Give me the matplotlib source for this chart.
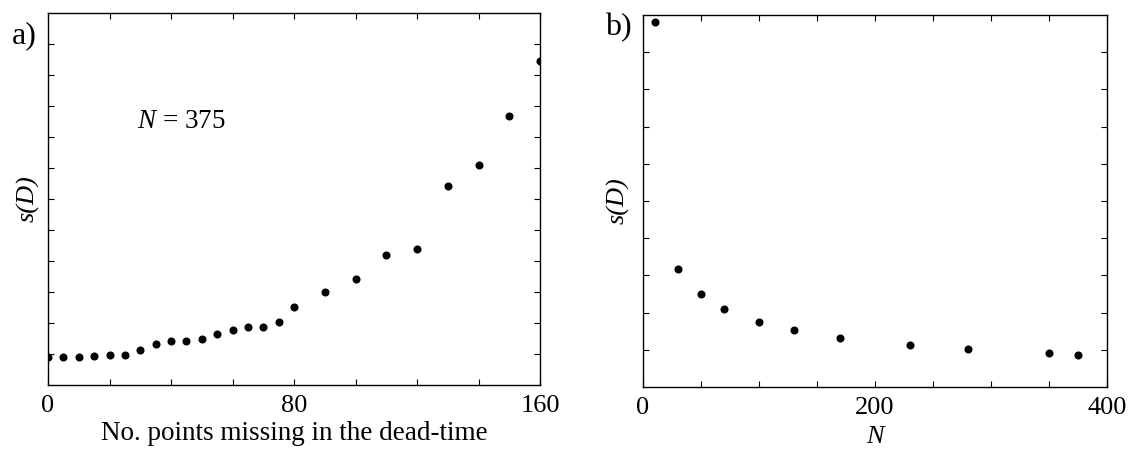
import matplotlib
matplotlib.use("Agg")
import matplotlib.pyplot as plt
from matplotlib.ticker import FixedLocator, NullFormatter

plt.rcParams["font.family"] = ["Liberation Serif", "DejaVu Serif"]
plt.rcParams["mathtext.fontset"] = "custom"
plt.rcParams["mathtext.rm"] = "Liberation Serif"
plt.rcParams["mathtext.it"] = "Liberation Serif:italic"

# (a) s(D) against the number of points missing in the dead-time, N = 375
missing = [0, 5, 10, 15, 20, 25, 30, 35, 40, 45, 50, 55, 60, 65, 70, 75, 80,
           90, 100, 110, 120, 130, 140, 150, 160]
s_missing = [0.91, 0.91, 0.91, 0.93, 0.96, 0.96, 1.12, 1.33, 1.41, 1.41, 1.50,
             1.65, 1.77, 1.86, 1.88, 2.03, 2.53, 3.01, 3.42, 4.18, 4.40, 6.43,
             7.11, 8.68, 10.46]

# (b) s(D) against the series length N
n_points = [10, 30, 50, 70, 100, 130, 170, 230, 280, 350, 375]
s_n = [9.82, 3.17, 2.50, 2.11, 1.76, 1.53, 1.33, 1.14, 1.02, 0.91, 0.87]

a_xticks = [0, 80, 160]
a_xminor = [20, 40, 60, 100, 120, 140]
a_yticks = [1, 2, 3, 4, 5, 6, 7, 8, 9, 10, 11]
b_xticks = [0, 200, 400]
b_xminor = [50, 100, 150, 250, 300, 350]
b_yticks = [1, 2, 3, 4, 5, 6, 7, 8, 9]

W, H = 1129, 451
fig = plt.figure(figsize=(W / 100, H / 100), dpi=100)
ax1 = fig.add_axes([48 / W, 1 - 385 / H, 492 / W, 372 / H])
ax2 = fig.add_axes([643 / W, 1 - 387 / H, 464 / W, 372 / H])


def style(ax, major, minor, yticks):
    ax.xaxis.set_major_locator(FixedLocator(major))
    ax.xaxis.set_minor_locator(FixedLocator(minor))
    ax.yaxis.set_major_locator(FixedLocator(yticks))
    ax.yaxis.set_major_formatter(NullFormatter())
    ax.tick_params(which="both", direction="in", top=True, right=True,
                   length=4, width=0.8, labelsize=19, pad=7)
    for sp in ax.spines.values():
        sp.set_linewidth(1.0)


ax1.plot(missing, s_missing, "o", color="black", markersize=4.8)
ax1.set_xlim(0, 160)
ax1.set_ylim(0, 12)
style(ax1, a_xticks, a_xminor, a_yticks)
ax1.set_xlabel("No. points missing in the dead-time", fontsize=19.5)
ax1.set_ylabel("s(D)", fontsize=19, style="italic")
ax1.xaxis.set_label_coords(0.5, -0.097)
ax1.yaxis.set_label_coords(-0.016, 0.5)
ax1.text(29, 8.3, r"$N$ = 375", fontsize=19.5)

ax2.plot(n_points, s_n, "o", color="black", markersize=4.8)
ax2.set_xlim(0, 400)
ax2.set_ylim(0, 10)
style(ax2, b_xticks, b_xminor, b_yticks)
ax2.set_xlabel("N", fontsize=19, style="italic")
ax2.set_ylabel("s(D)", fontsize=19, style="italic")
ax2.xaxis.set_label_coords(0.5, -0.104)
ax2.yaxis.set_label_coords(-0.028, 0.5)

fig.text(37 / W, 1 - 43 / H, "a)", fontsize=23, ha="right", va="baseline")
fig.text(632 / W, 1 - 35 / H, "b)", fontsize=23, ha="right", va="baseline")

fig.savefig("out.png", dpi=100)
